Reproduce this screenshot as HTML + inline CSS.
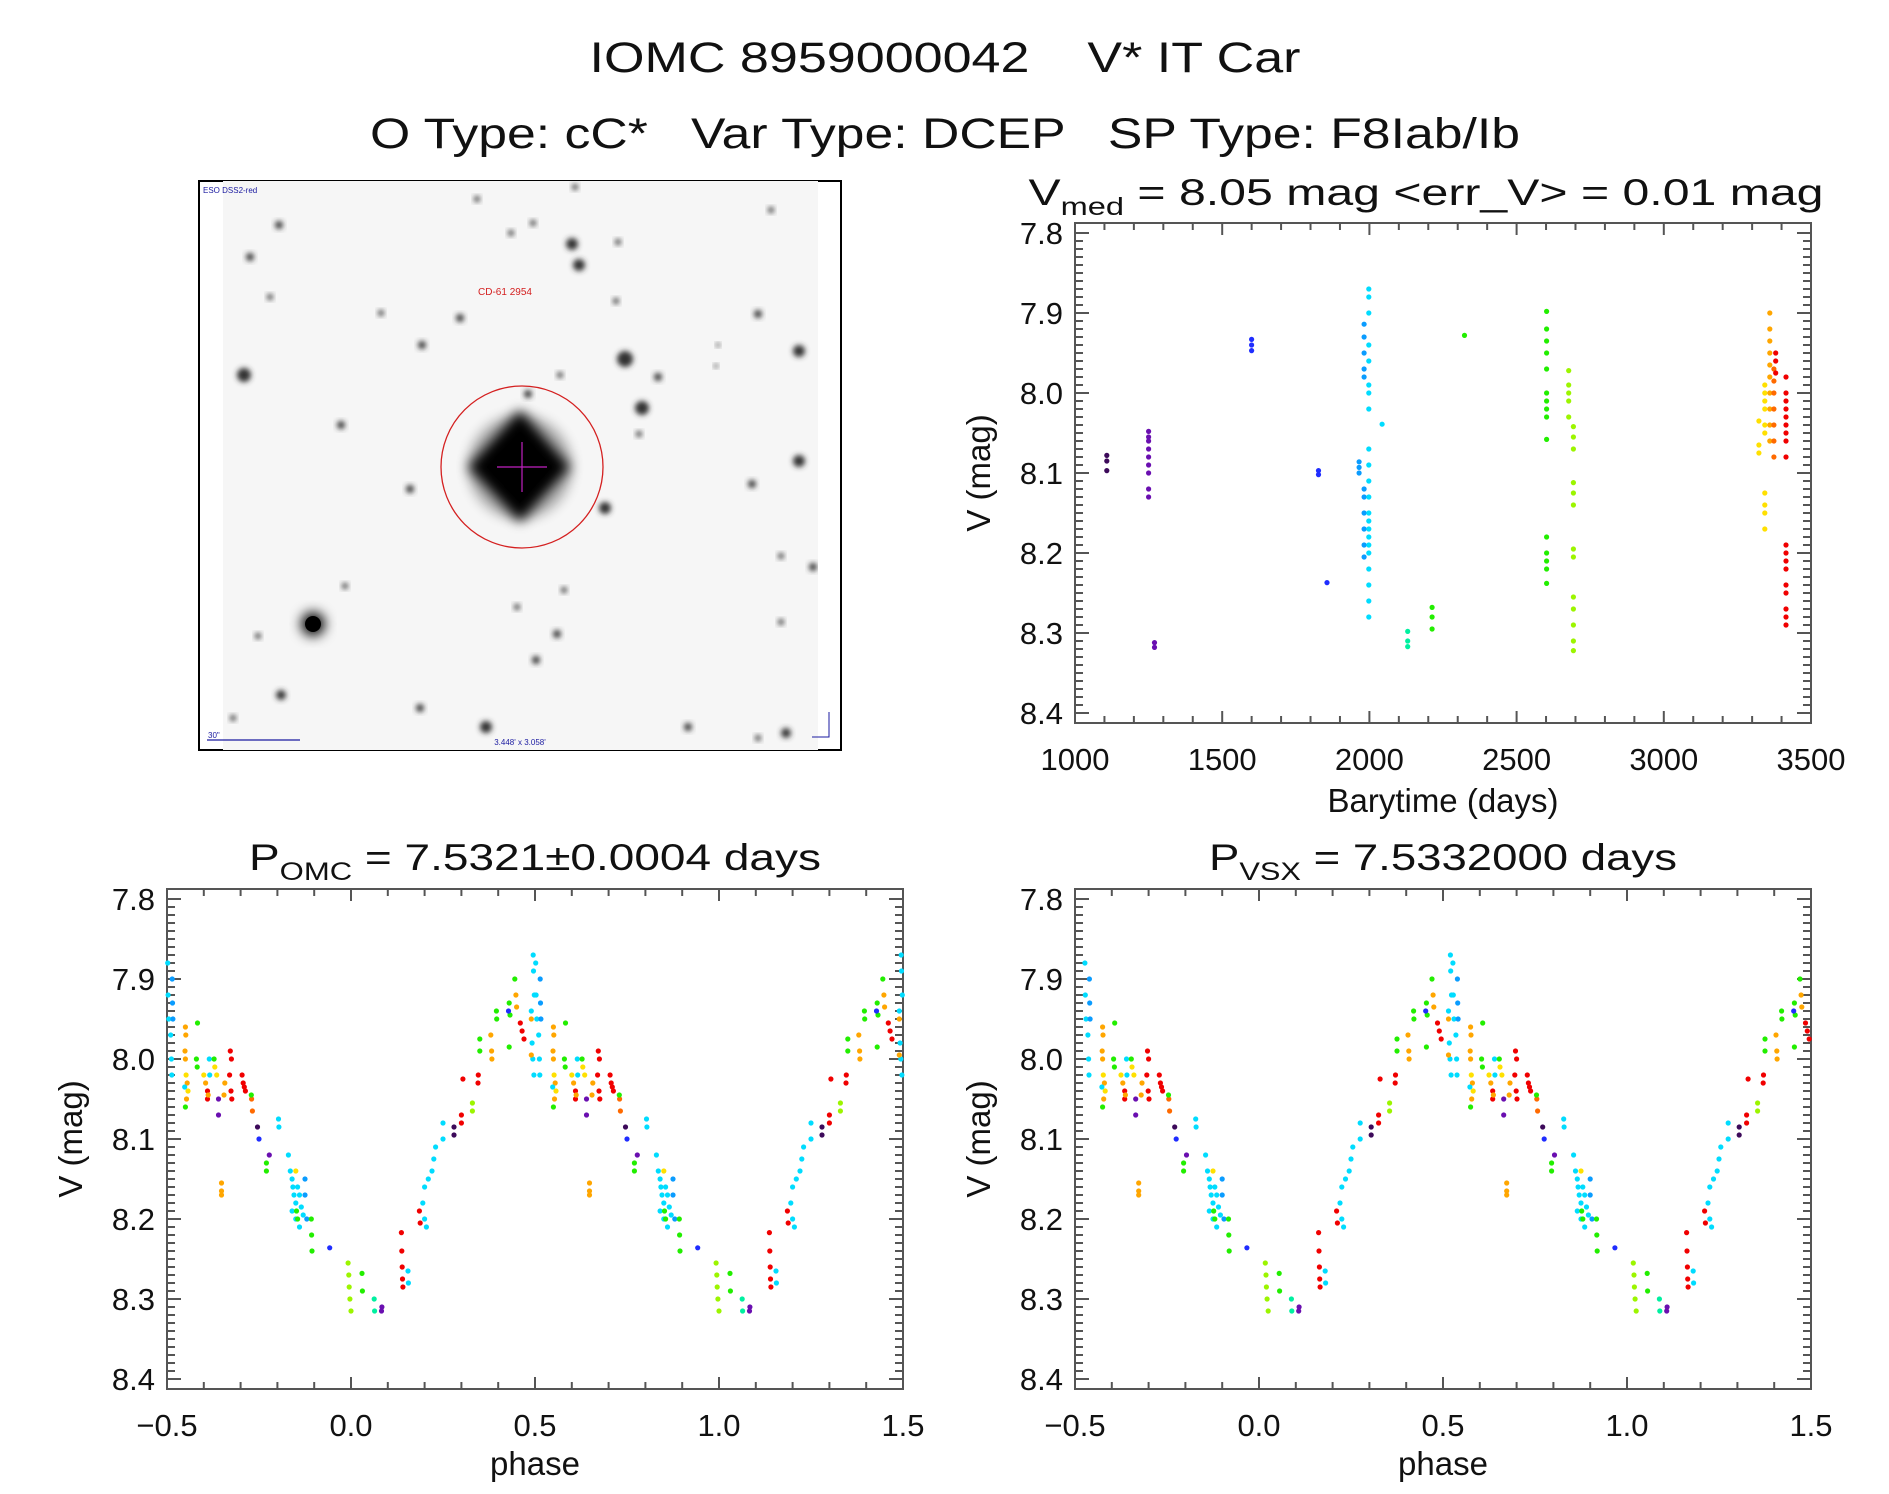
<!DOCTYPE html>
<html><head><meta charset="utf-8"><style>
html,body{margin:0;padding:0;background:#fff;}
svg{display:block;font-family:"Liberation Sans",sans-serif;}
text{fill:#111;}
</style></head><body>
<svg id="fig" width="1889" height="1494" viewBox="0 0 1889 1494" xmlns="http://www.w3.org/2000/svg">
<defs>
<filter id="blur2" x="-50%" y="-50%" width="200%" height="200%"><feGaussianBlur stdDeviation="2.6"/></filter>
<filter id="blur6" x="-50%" y="-50%" width="200%" height="200%"><feGaussianBlur stdDeviation="6"/></filter>
<filter id="blur1" x="-50%" y="-50%" width="200%" height="200%"><feGaussianBlur stdDeviation="1.2"/></filter>
<clipPath id="imgclip"><rect x="223" y="181" width="595" height="569"/></clipPath>
</defs>
<text x="945" y="72" font-size="43" text-anchor="middle" textLength="711" lengthAdjust="spacingAndGlyphs" xml:space="preserve">IOMC 8959000042    V* IT Car</text>
<text x="945" y="148" font-size="43" text-anchor="middle" textLength="1150" lengthAdjust="spacingAndGlyphs" xml:space="preserve">O Type: cC*   Var Type: DCEP   SP Type: F8Iab/Ib</text>
<g id="skyimage"></g>
<g id="plots"></g>
</svg>
<script>
// ---------- data: light curve vs time ----------
const timeGroupT = [1108,1250,1270,1600,1827,1856,1965,1982,1998,2043,2130,2213,2323,2602,2677,2693,3323,3343,3360,3374,3380,3415];
const timeGroupColor = ['P','U','U','B','B','B','L','L','C','C','T','G','G','G','E','E','Y','Y','O','D','R','R'];
const timeGroupMags = [
 [8.078,8.085,8.097],
 [8.048,8.055,8.06,8.07,8.08,8.09,8.1,8.12,8.13],
 [8.312,8.318],
 [7.933,7.94,7.947],
 [8.097,8.102],
 [8.237],
 [8.086,8.093,8.1],
 [7.914,7.93,7.95,7.97,7.98,8.12,8.13,8.15,8.17,8.19,8.205],
 [7.87,7.88,7.9,7.94,7.96,7.99,8.0,8.02,8.07,8.09,8.11,8.13,8.15,8.16,8.17,8.18,8.19,8.2,8.22,8.24,8.26,8.28],
 [8.039],
 [8.298,8.31,8.317],
 [8.268,8.28,8.295],
 [7.928],
 [7.898,7.92,7.935,7.95,7.97,8.0,8.01,8.02,8.03,8.058,8.18,8.2,8.21,8.22,8.238],
 [7.972,7.99,8.0,8.01,8.03],
 [8.042,8.055,8.07,8.112,8.125,8.14,8.195,8.205,8.255,8.27,8.29,8.31,8.322],
 [8.035,8.065,8.075],
 [7.99,8.0,8.01,8.02,8.04,8.05,8.125,8.14,8.15,8.17],
 [7.9,7.92,7.935,7.95,7.965,7.98,8.0,8.02,8.04,8.06],
 [7.97,7.985,8.0,8.02,8.04,8.06,8.08],
 [7.95,7.96,7.975],
 [7.98,8.0,8.01,8.02,8.03,8.04,8.05,8.06,8.08,8.19,8.2,8.21,8.22,8.24,8.25,8.27,8.28,8.29]
];
// ---------- data: folded light curve ----------
const phaseP = [-0.498,-0.497,-0.495,-0.490,-0.488,-0.487,-0.486,-0.485,-0.484,-0.450,-0.449,-0.451,-0.450,-0.448,-0.445,-0.443,-0.447,-0.450,-0.452,-0.417,-0.420,-0.418,-0.400,-0.395,-0.390,-0.390,-0.388,-0.385,-0.384,-0.370,-0.365,-0.372,-0.360,-0.360,-0.352,-0.352,-0.352,-0.343,-0.345,-0.328,-0.325,-0.330,-0.326,-0.324,-0.296,-0.293,-0.290,-0.287,-0.270,-0.268,-0.271,-0.254,-0.250,-0.222,-0.230,-0.230,-0.197,-0.196,-0.170,-0.165,-0.160,-0.158,-0.155,-0.150,-0.145,-0.140,-0.135,-0.130,-0.160,-0.150,-0.140,-0.125,-0.125,-0.120,-0.150,-0.148,-0.145,-0.108,-0.107,-0.106,-0.058,-0.008,-0.006,-0.005,-0.003,0.000,0.030,0.031,0.063,0.064,0.083,0.084,0.137,0.138,0.139,0.140,0.141,0.155,0.156,0.186,0.188,0.195,0.200,0.205,0.200,0.210,0.220,0.225,0.230,0.250,0.250,0.280,0.280,0.300,0.300,0.304,0.346,0.345,0.330,0.330,0.350,0.350,0.380,0.382,0.383,0.395,0.396,0.430,0.432,0.428,0.445,0.448,0.450,0.460,0.465,0.470,0.495,0.496,0.498,0.490,0.492,0.494,0.497,0.490,0.490,0.430];
const phaseV = [7.88,7.92,7.95,7.97,8.00,8.02,7.90,7.93,7.95,7.96,7.97,7.99,8.00,8.02,8.03,8.04,8.05,8.06,8.035,7.955,8.00,8.01,8.02,8.03,8.04,8.05,8.045,8.00,8.02,8.01,8.02,8.00,8.05,8.07,8.155,8.165,8.17,8.03,8.045,7.99,8.00,8.02,8.04,8.05,8.02,8.03,8.035,8.04,8.05,8.065,8.045,8.085,8.10,8.12,8.13,8.14,8.075,8.085,8.12,8.14,8.15,8.16,8.17,8.18,8.16,8.17,8.185,8.195,8.19,8.20,8.21,8.15,8.17,8.20,8.14,8.19,8.20,8.20,8.22,8.24,8.236,8.255,8.27,8.285,8.30,8.315,8.268,8.29,8.30,8.315,8.315,8.31,8.217,8.24,8.26,8.275,8.285,8.265,8.28,8.19,8.205,8.18,8.20,8.21,8.16,8.15,8.14,8.125,8.11,8.08,8.10,8.085,8.095,8.07,8.08,8.025,8.02,8.03,8.055,8.065,7.975,7.99,7.97,7.99,8.00,7.94,7.95,7.93,7.945,7.94,7.90,7.92,7.935,7.955,7.965,7.975,7.87,7.89,7.92,7.94,7.98,8.00,8.02,7.95,7.995,7.985];
const phaseC = ['C','C','C','C','C','C','L','L','L','O','O','O','O','Y','O','Y','O','G','C','G','G','G','Y','O','R','R','O','C','C','Y','Y','G','U','U','O','O','O','O','O','R','R','R','R','R','R','R','R','R','D','D','G','P','B','U','G','G','C','C','C','C','C','C','C','C','C','C','C','C','C','C','C','L','L','L','Y','G','G','G','G','G','B','E','E','E','E','E','G','G','T','T','U','U','R','R','R','R','R','C','C','R','R','C','C','C','C','C','C','C','C','C','C','P','P','R','R','R','R','R','E','E','G','G','O','O','O','G','G','G','G','B','G','O','O','R','R','R','C','C','C','C','C','C','C','O','O','G'];
const vsxShift = 0.025;
const colorMap = {P:'#3d0a5a',U:'#6a0fb0',B:'#1f2dff',L:'#0a9cff',C:'#00dcff',T:'#00f0a0',G:'#22ee00',E:'#9cf500',Y:'#ffe000',O:'#ffa600',D:'#ff6a00',R:'#f00000'};
const yTicks = [7.8,7.9,8.0,8.1,8.2,8.3,8.4];
const timeTicks = [1000,1500,2000,2500,3000,3500];
const phaseTicks = [-0.5,0.0,0.5,1.0,1.5];
const phaseTickLabels = ['\u22120.5','0.0','0.5','1.0','1.5'];

const NS='http://www.w3.org/2000/svg';
const plots=document.getElementById('plots');
function mk(tag,attrs,parent){const e=document.createElementNS(NS,tag);for(const k in attrs)e.setAttribute(k,attrs[k]);(parent||plots).appendChild(e);return e;}

function makeAxes(name,L,T,R,B,xmin,xmax,xMinor,xTicks,xLabels,ymin,ymax){
  const g=mk('g',{});
  
  
  const sx=v=>L+(v-xmin)/(xmax-xmin)*(R-L);
  const sy=v=>T+(v-ymin)/(ymax-ymin)*(B-T);
  const frame=mk('rect',{x:L,y:T,width:R-L,height:B-T,fill:'none',stroke:'#555','stroke-width':2},g);
  
  
  const nx=Math.round((xmax-xmin)/xMinor);
  for(let i=0;i<=nx;i++){
    const v=xmin+i*xMinor;const x=sx(v);
    const major=xTicks.some(t=>Math.abs(t-v)<xMinor/10);
    const len=major?12:7;
    mk('line',{x1:x,y1:B,x2:x,y2:B-len,stroke:'#555','stroke-width':2},g);
    mk('line',{x1:x,y1:T,x2:x,y2:T+len,stroke:'#555','stroke-width':2},g);
  }
  xTicks.forEach((t,i)=>{
    const tx=mk('text',{x:sx(t),y:B+47,'font-size':31,'text-anchor':'middle'},g);
    tx.textContent=xLabels[i];
    
    
  });
  for(let i=0;i<=60;i++){
    const v=7.8+i*0.01;const y=sy(v);
    const major=i%10===0;const len=major?14:8;
    mk('line',{x1:L,y1:y,x2:L+len,y2:y,stroke:'#555','stroke-width':2},g);
    mk('line',{x1:R,y1:y,x2:R-len,y2:y,stroke:'#555','stroke-width':2},g);
  }
  yTicks.forEach(t=>{
    const tx=mk('text',{x:L-12,y:sy(t)+11,'font-size':31,'text-anchor':'end'},g);
    tx.textContent=t.toFixed(1);
    
    
  });
  const yt=mk('text',{x:0,y:0,'font-size':33,'text-anchor':'middle',transform:`translate(${L-85},${(T+B)/2}) rotate(-90)`},g);
  yt.textContent='V (mag)';
  
  
  return {g,sx,sy};
}

function dot(g,x,y,c,L,R,T,B){
  if(x<L-1||x>R+1||y<T||y>B)return;
  const d=mk('circle',{cx:x.toFixed(1),cy:y.toFixed(1),r:2.6,fill:colorMap[c]},g);
  
  
}

(function(){
  const L=1075,T=223,R=1811,B=723;
  const ax=makeAxes('time-plot',L,T,R,B,1000,3500,100,timeTicks,timeTicks.map(String),7.7875,8.4125);
  timeGroupT.forEach((t,i)=>{
    timeGroupMags[i].forEach(m=>dot(ax.g,ax.sx(t),ax.sy(m),timeGroupColor[i],L,R,T,B));
  });
  const xt=mk('text',{x:(L+R)/2,y:812,'font-size':33,'text-anchor':'middle'},ax.g);
  xt.textContent='Barytime (days)';
  
  
  const tt=mk('text',{x:1426,y:205,'font-size':37,'text-anchor':'middle',textLength:795,lengthAdjust:'spacingAndGlyphs'},ax.g);
  tt.innerHTML='V<tspan font-size="25" dy="10">med</tspan><tspan dy="-10"> = 8.05 mag &lt;err_V&gt; = 0.01 mag</tspan>';
  
  
})();

function phasePlot(name,L,titleMain,titleSub,titleRest,titleLen,shift){
  const T=889,R=L+736,B=1389;
  const ax=makeAxes(name,L,T,R,B,-0.5,1.5,0.1,phaseTicks,phaseTickLabels,7.7875,8.4125);
  phaseP.forEach((p,i)=>{
    const q=p+shift;
    [q,q+1].forEach(pp=>dot(ax.g,ax.sx(pp),ax.sy(phaseV[i]),phaseC[i],L,R,T,B));
  });
  const xt=mk('text',{x:(L+R)/2,y:1475,'font-size':33,'text-anchor':'middle'},ax.g);
  xt.textContent='phase';
  
  
  const tt=mk('text',{x:(L+R)/2,y:870,'font-size':37,'text-anchor':'middle',textLength:titleLen,lengthAdjust:'spacingAndGlyphs'},ax.g);
  tt.innerHTML=titleMain+'<tspan font-size="25" dy="10">'+titleSub+'</tspan><tspan dy="-10">'+titleRest+'</tspan>';
  
  
}
phasePlot('phase-plot-omc',167,'P','OMC',' = 7.5321\u00b10.0004 days',572,0);
phasePlot('phase-plot-vsx',1075,'P','VSX',' = 7.5332000 days',468,vsxShift);

(function(){
  const g=document.getElementById('skyimage');
  mk('rect',{x:199,y:181,width:642,height:569,fill:'#fff',stroke:'#000','stroke-width':2},g);
  const c=mk('g',{'clip-path':'url(#imgclip)'},g);
  mk('rect',{x:223,y:181,width:595,height:569,fill:'#f6f6f6'},c);
  mk('line',{x1:223,y1:467,x2:818,y2:467,stroke:'#999','stroke-width':3,filter:'url(#blur1)'},c);
  mk('line',{x1:518,y1:181,x2:518,y2:750,stroke:'#999','stroke-width':3,filter:'url(#blur1)'},c);
  const stars=[[625,359,8],[642,408,7],[572,244,6],[579,265,6],[244,375,7],[799,351,6],[799,461,6],[605,508,6],[281,695,5],[486,727,6],[341,425,4],[250,257,4],[279,225,4],[422,345,4],[460,318,4],[752,484,4],[758,314,4],[658,377,4],[560,375,3],[528,394,4],[410,489,4],[557,634,4],[536,660,4],[517,607,3],[420,708,4],[781,556,3],[781,622,3],[688,727,4],[813,567,4],[345,586,3],[564,590,3],[639,434,3],[616,301,3],[381,313,3],[270,297,3],[511,233,3],[533,223,3],[771,210,3],[618,242,3],[575,187,3],[477,199,3],[233,718,3],[258,636,3],[786,733,5],[758,738,3],[718,345,2],[716,366,2]];
  stars.forEach(s=>mk('circle',{cx:s[0],cy:s[1],r:s[2],fill:'#333',filter:'url(#blur2)'},c));
  mk('circle',{cx:313,cy:624,r:12,fill:'#000',filter:'url(#blur6)'},c);
  mk('circle',{cx:313,cy:624,r:8,fill:'#000'},c);
  mk('circle',{cx:520,cy:467,r:52,fill:'#000',opacity:0.3,filter:'url(#blur6)'},c);
  mk('polygon',{points:'520,410 570,467 520,522 468,467',fill:'#000',filter:'url(#blur6)'},c);
  mk('polygon',{points:'520,432 552,467 520,503 487,467',fill:'#000'},c);
  mk('circle',{cx:522,cy:467,r:81,fill:'none',stroke:'#d42020','stroke-width':1.3},c);
  mk('line',{x1:497,y1:467,x2:547,y2:467,stroke:'#c020c0','stroke-width':1.2},c);
  mk('line',{x1:522,y1:442,x2:522,y2:492,stroke:'#c020c0','stroke-width':1.2},c);
  const lab=mk('text',{x:505,y:295,'font-size':10,'text-anchor':'middle',style:'fill:#d42020'},c);
  lab.textContent='CD-61 2954';
  mk('text',{x:203,y:193,'font-size':8,style:'fill:#1a1aa0'},g).textContent='ESO DSS2-red';
  mk('line',{x1:207,y1:740,x2:300,y2:740,stroke:'#1a1aa0','stroke-width':1.2},g);
  mk('text',{x:208,y:738,'font-size':8,style:'fill:#1a1aa0'},g).textContent='30"';
  mk('text',{x:520,y:745,'font-size':8,'text-anchor':'middle',style:'fill:#1a1aa0'},g).textContent="3.448' x 3.058'";
  mk('polyline',{points:'829,712 829,737 812,737',fill:'none',stroke:'#1a1aa0','stroke-width':1},g);
})();
</script>
</body></html>
